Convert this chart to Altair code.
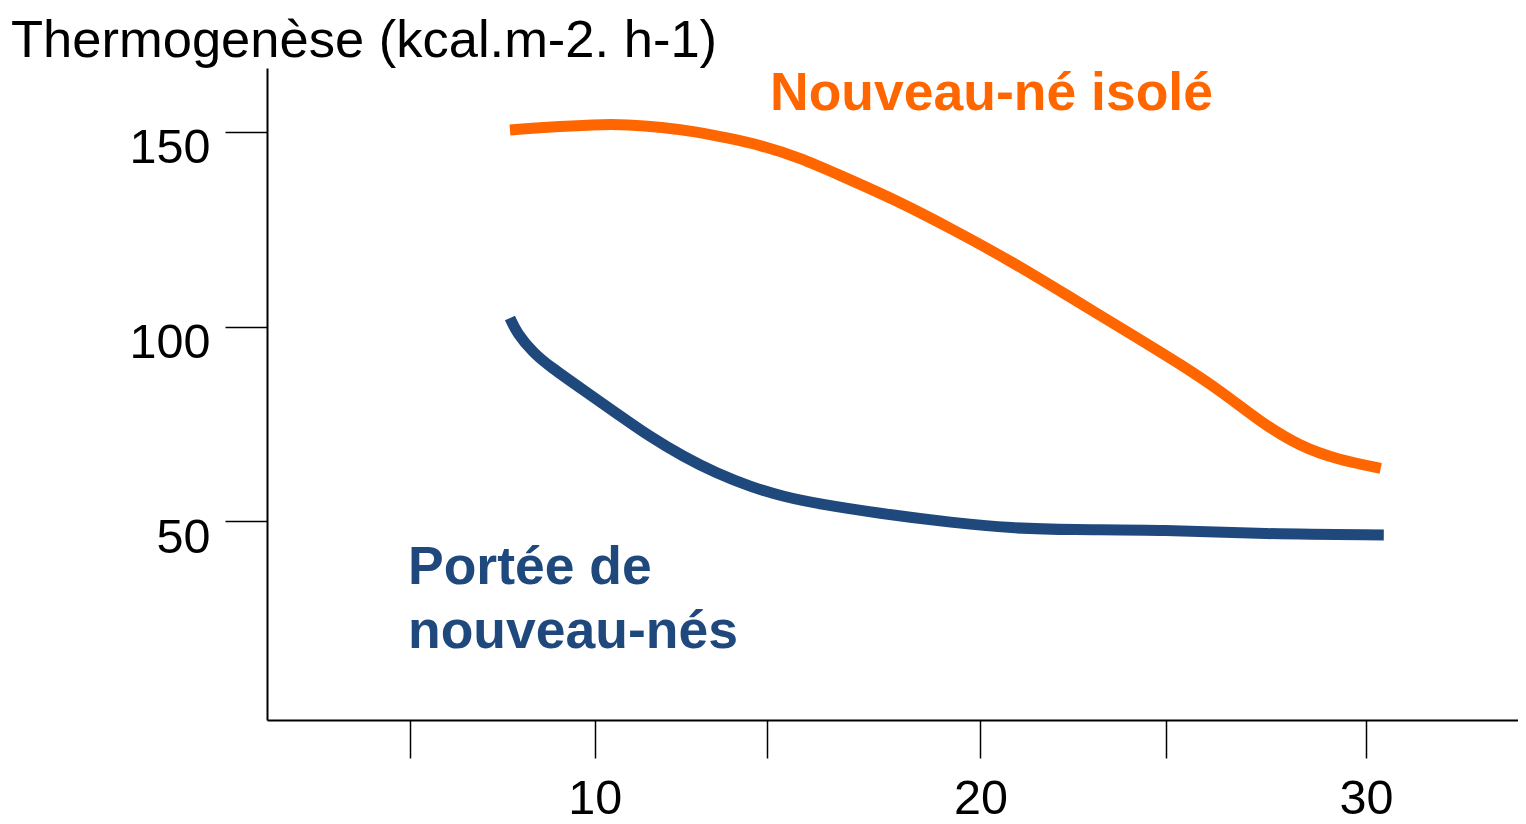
import altair as alt
import pandas as pd

# ---- data ----
x_ticks = [5.2, 10, 14.46, 20, 24.81, 30]
x_labels = [10, 20, 30]
y_ticks = [50, 100, 150]

series_names = ["Nouveau-né isolé", "Portée de nouveau-nés"]
series_colors = ["#FF6600", "#1F497D"]

orange_temp = [7.80, 8.71, 10.01, 10.86, 11.74, 12.60, 13.46, 14.33, 15.33, 16.32,
               17.81, 19.31, 20.81, 22.30, 23.80, 25.29, 26.29, 27.29, 28.29, 29.28, 30.38]
orange_thermo = [150.5, 151.2, 151.9, 151.9, 151.2, 150.1, 148.4, 146.5, 143.3, 139.0,
                 132.5, 124.8, 116.7, 107.7, 98.7, 89.7, 83.0, 75.3, 69.2, 65.8, 63.6]

blue_temp = [7.80, 7.98, 8.41, 8.84, 9.70, 10.57, 11.43, 12.30, 13.16, 14.03, 14.89,
             15.84, 17.32, 19.31, 20.81, 22.30, 24.79, 27.29, 30.46]
blue_thermo = [102.2, 98.3, 93.2, 89.7, 83.7, 77.7, 71.7, 66.6, 62.3, 58.9, 56.3,
               54.4, 52.1, 49.6, 48.2, 47.8, 47.8, 46.7, 46.5]

y_title = "Thermogenèse (kcal.m-2. h-1)"
label_orange = "Nouveau-né isolé"
label_blue = ["Portée de", "nouveau-nés"]

df = pd.concat([
    pd.DataFrame({"temp": orange_temp, "thermo": orange_thermo, "serie": series_names[0]}),
    pd.DataFrame({"temp": blue_temp, "thermo": blue_thermo, "serie": series_names[1]}),
], ignore_index=True)

FONT = "Liberation Sans"

x_scale = alt.Scale(domain=[1.5, 33.94], nice=False, zero=False)
y_scale = alt.Scale(domain=[-1.04, 166.4], nice=False, zero=False)

label_expr = f"indexof({x_labels}, datum.value) >= 0 ? format(datum.value, 'd') : ''"

lines = alt.Chart(df).mark_line(strokeWidth=11, interpolate="basis", strokeCap="butt").encode(
    x=alt.X("temp:Q", scale=x_scale,
            axis=alt.Axis(values=x_ticks, labelExpr=label_expr, title=None, grid=False,
                          tickSize=38, tickWidth=1.5, tickColor="#000000",
                          domainWidth=2, domainColor="#000000",
                          labelFont=FONT, labelFontSize=48.5, labelColor="#000000",
                          labelBaseline="alphabetic", labelPadding=55,
                          labelOverlap=False, labelFlush=False, labelBound=False)),
    y=alt.Y("thermo:Q", scale=y_scale,
            axis=alt.Axis(values=y_ticks, format="d", grid=False,
                          tickSize=42, tickWidth=1.5, tickColor="#000000",
                          domainWidth=2, domainColor="#000000",
                          labelFont=FONT, labelFontSize=48.5, labelColor="#000000",
                          labelAlign="right", labelBaseline="alphabetic",
                          labelOffset=31, labelPadding=15,
                          labelOverlap=False, labelFlush=False, labelBound=False,
                          title=y_title, titleAngle=0, titleAlign="left",
                          titleBaseline="alphabetic", titleX=-256.5, titleY=-12,
                          titleFont=FONT, titleFontSize=52.5, titleFontWeight="normal",
                          titleColor="#000000")),
    color=alt.Color("serie:N", scale=alt.Scale(domain=series_names, range=series_colors),
                    legend=None),
)

txt_orange = alt.Chart(pd.DataFrame({"t": [label_orange]})).mark_text(
    font=FONT, fontSize=53.5, fontWeight="bold", color=series_colors[0],
    align="left", baseline="alphabetic"
).encode(x=alt.value(503), y=alt.value(41.5), text="t:N")

txt_blue = alt.Chart(pd.DataFrame({"t": [label_blue]})).mark_text(
    font=FONT, fontSize=53.5, fontWeight="bold", color=series_colors[1],
    align="left", baseline="alphabetic", lineHeight=64.3
).encode(x=alt.value(141), y=alt.value(516), text="t")

chart = alt.layer(lines, txt_orange, txt_blue).properties(
    width=1251, height=652,
    autosize=alt.AutoSizeParams(type="none"),
    padding={"left": 259, "top": 60, "right": 0, "bottom": 104},
    background="#ffffff",
).configure_view(stroke=None)

chart.save("out.html", embed_options={"renderer": "svg", "actions": False})
